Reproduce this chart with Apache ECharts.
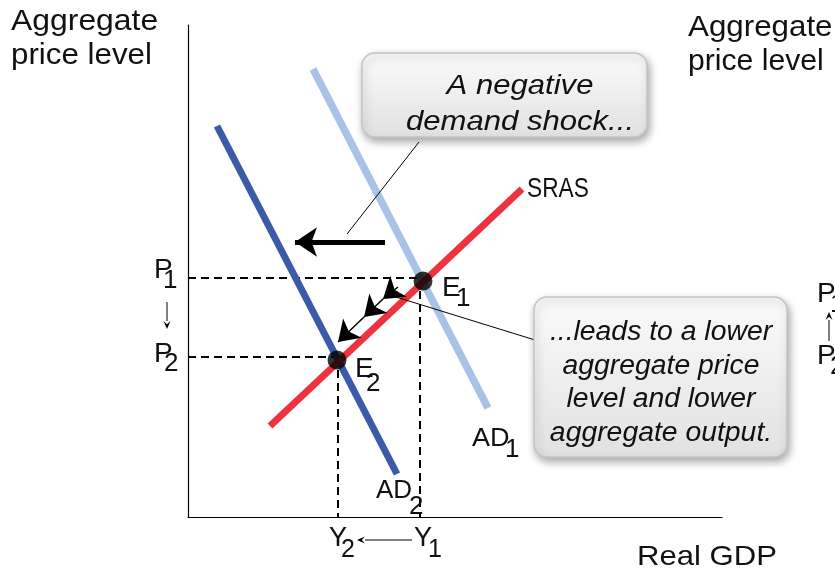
<!DOCTYPE html>
<html><head><meta charset="utf-8">
<script src="https://cdn.jsdelivr.net/npm/echarts@6/dist/echarts.min.js"></script>
<style>html,body{margin:0;padding:0;background:#fff}#c{width:835px;height:573px}</style>
</head><body><div id="c"></div>
<script>
// ---- Data (horizontal: real GDP units, vertical: price level units) ----
const sras = [[82, 91], [334, 328]];
const ad1 = [[125, 448], [300, 109]];
const ad2 = [[29, 391], [209, 43]];
const equilibria = [[235, 236], [149, 157]];      // E1, E2
const priceLevels = [239, 160];                  // P1, P2
const outputLevels = [232, 150];                 // Y1, Y2
const shockArrow = [[197, 275], [107, 275]];
const moveArrows = [[[210, 230], [195, 218]], [[195, 218], [176, 200]], [[176, 200], [150, 175]]];
const pointerLines = [[[231, 375], [159, 283]], [[208, 220], [347, 177]]];
const boxText1 = ['A negative', 'demand shock...'];
const boxText2 = ['...leads to a lower', 'aggregate price', 'level and lower', 'aggregate output.'];

const FONT = 'Liberation Sans, Arial, sans-serif';
const chart = echarts.init(document.getElementById('c'), null, {renderer: 'canvas'});

const dashed = {color: '#000', width: 2, type: [8, 5]};
const series = [
  {type: 'line', data: [[0, priceLevels[0]], [equilibria[0][0], priceLevels[0]]], showSymbol: false, lineStyle: dashed, z: 1},
  {type: 'line', data: [[outputLevels[0], priceLevels[0]], [outputLevels[0], 0]], showSymbol: false, lineStyle: dashed, z: 1},
  {type: 'line', data: [[0, priceLevels[1]], [equilibria[1][0], priceLevels[1]]], showSymbol: false, lineStyle: dashed, z: 1},
  {type: 'line', data: [[outputLevels[1], priceLevels[1]], [outputLevels[1], 0]], showSymbol: false, lineStyle: dashed, z: 1},
  {type: 'line', data: ad1, showSymbol: false, lineStyle: {color: '#a9c3e8', width: 7.5}, z: 2},
  {type: 'line', data: ad2, showSymbol: false, lineStyle: {color: '#3b5ba9', width: 7}, z: 3},
  {type: 'line', data: sras, showSymbol: false, lineStyle: {color: '#ee3340', width: 7}, z: 4},
  {type: 'lines', coordinateSystem: 'cartesian2d', data: [{coords: shockArrow}], symbol: ['none', 'arrow'], symbolSize: 22,
   lineStyle: {color: '#000', width: 5, opacity: 1, curveness: 0}, z: 6},
  {type: 'lines', coordinateSystem: 'cartesian2d', data: moveArrows.map(c => ({coords: c})), symbol: ['none', 'arrow'], symbolSize: 20,
   lineStyle: {color: '#000', width: 1.5, opacity: 1, curveness: 0}, z: 6},
  {type: 'lines', coordinateSystem: 'cartesian2d', data: pointerLines.map(c => ({coords: c})), symbol: 'none',
   lineStyle: {color: '#000', width: 1, opacity: 1, curveness: 0}, z: 6},
  {type: 'scatter', data: equilibria, symbolSize: 19, itemStyle: {color: '#000'}, z: 7}
];

chart.setOption({
  animation: false,
  grid: {left: 188, top: 25, width: 534, height: 492},
  xAxis: {type: 'value', min: 0, max: 534, axisLine: {show: true, onZero: false, lineStyle: {color: '#000', width: 1.2}},
          axisTick: {show: false}, axisLabel: {show: false}, splitLine: {show: false}},
  yAxis: {type: 'value', min: 0, max: 492, axisLine: {show: true, onZero: false, lineStyle: {color: '#000', width: 1.2}},
          axisTick: {show: false}, axisLabel: {show: false}, splitLine: {show: false}},
  series: series
});

function txt(s, x, baseline, size, extra) {
  extra = extra || {};
  return {
    type: 'text', x: x, y: baseline - 0.35 * size, scaleX: extra.scaleX || 1, z: 100,
    style: {text: s, x: 0, y: 0, fill: '#111', font: (extra.italic ? 'italic ' : '') + size + 'px ' + FONT,
            align: extra.align || 'left', verticalAlign: 'middle'}
  };
}
function arrow(x1, y1, x2, y2) {
  const ang = Math.atan2(y2 - y1, x2 - x1), L = 8, W = 3.5;
  const bx = x2 - L * Math.cos(ang), by = y2 - L * Math.sin(ang);
  const px = -Math.sin(ang) * W, py = Math.cos(ang) * W;
  return [
    {type: 'line', shape: {x1: x1, y1: y1, x2: bx, y2: by}, style: {stroke: '#000', lineWidth: 1}, z: 100},
    {type: 'polygon', shape: {points: [[x2, y2], [bx + px, by + py], [x2 - 0.6 * L * Math.cos(ang), y2 - 0.6 * L * Math.sin(ang)], [bx - px, by - py]]},
     style: {fill: '#000'}, z: 100}
  ];
}
function box(x, y, w, h) {
  return {
    type: 'rect', shape: {x: x, y: y, width: w, height: h, r: 13}, z: 50,
    style: {
      fill: {type: 'linear', x: 0, y: 0, x2: 0, y2: 1, colorStops: [{offset: 0, color: '#fbfbfb'}, {offset: 1, color: '#e1e1e1'}]},
      stroke: '#c4c4c4', lineWidth: 1.5,
      shadowBlur: 8, shadowOffsetX: 2, shadowOffsetY: 4, shadowColor: 'rgba(0,0,0,0.35)'
    }
  };
}

const g = [];
// axis titles
g.push(txt('Aggregate', 11, 32, 29, {scaleX: 1.1}), txt('price level', 11, 66, 29, {scaleX: 1.08}));
g.push(txt('Aggregate', 688, 38, 29, {scaleX: 1.08}), txt('price level', 688, 72, 29, {scaleX: 1.04}));
g.push(txt('Real GDP', 637, 567, 28, {scaleX: 1.11}));
// price / output labels
g.push(txt('P', 154, 280, 28), txt('1', 163, 290, 26));
g.push(txt('P', 154, 364, 28), txt('2', 164, 373, 26));
g.push(...arrow(167, 302, 167, 329));
g.push(txt('Y', 329, 548, 27), txt('2', 341, 559, 25));
g.push(txt('Y', 414, 548, 27), txt('1', 428, 559, 25));
g.push(...arrow(412, 540, 357, 540));
// equilibrium labels
g.push(txt('E', 442, 298, 28), txt('1', 456, 308, 26));
g.push(txt('E', 355, 379, 28), txt('2', 366, 393, 26));
// curve labels
g.push(txt('SRAS', 527, 199, 27, {scaleX: 0.84}));
g.push(txt('AD', 472, 448, 26, {scaleX: 1.04}), txt('1', 505, 459, 26));
g.push(txt('AD', 376, 500, 25, {scaleX: 1.04}), txt('2', 409, 516, 26));
// right side (cut off)
g.push(txt('P', 817, 304, 28), txt('1', 830, 314, 26));
g.push(txt('P', 817, 366, 28), txt('2', 830, 376, 26));
g.push(...arrow(829, 341, 829, 312));
// boxes
g.push(box(362, 53, 285, 84));
g.push({type: 'group', x: 520, y: 0, scaleX: 1.11, z: 100, children: [
  txt(boxText1[0], 0, 96, 28, {italic: true, align: 'center'}),
  txt(boxText1[1], 0, 132, 28, {italic: true, align: 'center'})
]});
g.push(box(534, 297, 253, 160));
const bl = [342, 376, 409, 443];
g.push({type: 'group', x: 661, y: 0, scaleX: 1.05, z: 100, children:
  boxText2.map((s, i) => txt(s, 0, bl[i], 27, {italic: true, align: 'center'}))
});

chart.setOption({graphic: {elements: g}});
</script>
</body></html>
